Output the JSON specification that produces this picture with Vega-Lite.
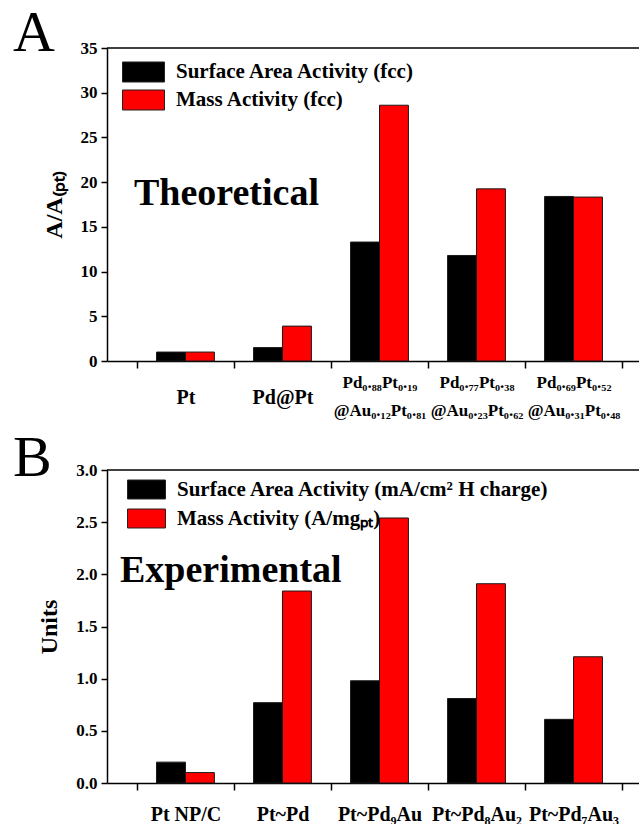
{
  "$schema": "https://vega.github.io/schema/vega-lite/v6.json",
  "background": "white",
  "padding": {"left": 13, "top": 5, "right": 0, "bottom": 0},
  "spacing": 12,
  "resolve": {"scale": {"color": "independent", "xOffset": "independent", "x": "independent", "y": "independent"}, "legend": {"color": "independent"}},
  "config": {
    "view": {"stroke": null},
    "font": "Liberation Serif",
    "axis": {
      "domainColor": "black", "domainWidth": 1.5, "tickColor": "black", "tickWidth": 1.5,
      "labelColor": "black", "labelFont": "Liberation Serif", "labelFontWeight": "bold",
      "titleColor": "black", "titleFont": "Liberation Serif", "titleFontWeight": "bold", "grid": false
    },
    "legend": {
      "labelFont": "Liberation Serif", "labelFontWeight": "bold", "labelFontSize": 21, "labelColor": "black",
      "labelLimit": 600, "padding": 0, "symbolStrokeColor": "#222222", "symbolStrokeWidth": 1, "symbolOpacity": 1
    }
  },
  "vconcat": [
    {
      "title": {"text": "A", "anchor": "start", "frame": "group", "fontSize": 58, "fontWeight": "normal", "font": "Liberation Serif", "color": "black", "baseline": "bottom", "dx": -94, "offset": -82},
      "width": 533,
      "height": 313,
      "layer": [
        {
          "data": {"values": [
            {"cat": "Pt", "series": "Surface Area Activity (fcc)", "value": 1.0},
            {"cat": "Pt", "series": "Mass Activity (fcc)", "value": 1.0},
            {"cat": "Pd@Pt", "series": "Surface Area Activity (fcc)", "value": 1.5},
            {"cat": "Pd@Pt", "series": "Mass Activity (fcc)", "value": 3.9},
            {"cat": "Pd₀.₈₈Pt₀.₁₉|@Au₀.₁₂Pt₀.₈₁", "series": "Surface Area Activity (fcc)", "value": 13.3},
            {"cat": "Pd₀.₈₈Pt₀.₁₉|@Au₀.₁₂Pt₀.₈₁", "series": "Mass Activity (fcc)", "value": 28.6},
            {"cat": "Pd₀.₇₇Pt₀.₃₈|@Au₀.₂₃Pt₀.₆₂", "series": "Surface Area Activity (fcc)", "value": 11.8},
            {"cat": "Pd₀.₇₇Pt₀.₃₈|@Au₀.₂₃Pt₀.₆₂", "series": "Mass Activity (fcc)", "value": 19.25},
            {"cat": "Pd₀.₆₉Pt₀.₅₂|@Au₀.₃₁Pt₀.₄₈", "series": "Surface Area Activity (fcc)", "value": 18.4},
            {"cat": "Pd₀.₆₉Pt₀.₅₂|@Au₀.₃₁Pt₀.₄₈", "series": "Mass Activity (fcc)", "value": 18.33}
          ]},
          "mark": {"type": "bar", "stroke": "#1a1a1a", "strokeWidth": 1},
          "encoding": {
            "x": {"field": "cat", "type": "nominal",
              "scale": {"domain": ["Pt", "Pd@Pt", "Pd₀.₈₈Pt₀.₁₉|@Au₀.₁₂Pt₀.₈₁", "Pd₀.₇₇Pt₀.₃₈|@Au₀.₂₃Pt₀.₆₂", "Pd₀.₆₉Pt₀.₅₂|@Au₀.₃₁Pt₀.₄₈"], "paddingInner": 0, "paddingOuter": 0.247, "align": 0.625},
              "axis": {"title": null, "tickBand": "extent", "tickSize": 7, "labelAngle": 0,
                "labelFontSize": {"condition": {"test": "length(datum.label) > 6", "value": 17}, "value": 20},
                "labelPadding": {"condition": {"test": "length(datum.label) > 6", "value": 14}, "value": 29},
                "labelBaseline": "middle", "labelLineHeight": 28, "labelExpr": "split(datum.label, '|')", "labelOverlap": false, "labelLimit": 300}},
            "xOffset": {"field": "series", "type": "nominal", "scale": {"domain": ["Surface Area Activity (fcc)", "Mass Activity (fcc)"], "paddingInner": 0, "paddingOuter": 0.676}},
            "y": {"field": "value", "type": "quantitative", "scale": {"domain": [0, 35], "nice": false},
              "axis": {"title": "A/A₍ₚₜ₎", "titleFontSize": 24, "titlePadding": 14,
                "values": [0, 2.5, 5, 7.5, 10, 12.5, 15, 17.5, 20, 22.5, 25, 27.5, 30, 32.5, 35],
                "labelExpr": "datum.value % 5 === 0 ? datum.label : ''",
                "tickSize": {"condition": {"test": "datum.value % 5 === 0", "value": 6}, "value": 3},
                "labelFontSize": 17, "labelPadding": 4}},
            "color": {"field": "series", "type": "nominal",
              "scale": {"domain": ["Surface Area Activity (fcc)", "Mass Activity (fcc)"], "range": ["#000000", "#ff0000"]},
              "legend": {"title": null, "orient": "none", "legendX": 21, "legendY": 8.5, "symbolType": "M-1.4,-0.667H1.4V0.667H-1.4Z", "symbolSize": 900, "labelOffset": 17, "rowPadding": 0}}
          }
        },
        {
          "data": {"values": [{"note": "Theoretical", "cat": "Pt", "y": 17.5}]},
          "mark": {"type": "text", "align": "left", "baseline": "alphabetic", "fontSize": 38, "fontWeight": "bold", "font": "Liberation Serif", "color": "black", "dx": -3},
          "encoding": {
            "x": {"field": "cat", "type": "nominal", "bandPosition": 0},
            "y": {"field": "y", "type": "quantitative"},
            "text": {"field": "note"}
          }
        },
        {
          "data": {"values": [{}]},
          "mark": {"type": "rule", "color": "black", "strokeWidth": 1.5},
          "encoding": {"y": {"datum": 35}}
        }
      ]
    },
    {
      "title": {"text": "B", "anchor": "start", "frame": "group", "fontSize": 58, "fontWeight": "normal", "font": "Liberation Serif", "color": "black", "baseline": "bottom", "dx": -94, "offset": -85},
      "width": 533,
      "height": 313,
      "layer": [
        {
          "data": {"values": [
            {"cat": "Pt NP/C", "series": "Surface Area Activity (mA/cm² H charge)", "value": 0.2},
            {"cat": "Pt NP/C", "series": "Mass Activity (A/mgₚₜ)", "value": 0.1},
            {"cat": "Pt~Pd", "series": "Surface Area Activity (mA/cm² H charge)", "value": 0.77},
            {"cat": "Pt~Pd", "series": "Mass Activity (A/mgₚₜ)", "value": 1.84},
            {"cat": "Pt~Pd₉Au", "series": "Surface Area Activity (mA/cm² H charge)", "value": 0.98},
            {"cat": "Pt~Pd₉Au", "series": "Mass Activity (A/mgₚₜ)", "value": 2.54},
            {"cat": "Pt~Pd₈Au₂", "series": "Surface Area Activity (mA/cm² H charge)", "value": 0.81},
            {"cat": "Pt~Pd₈Au₂", "series": "Mass Activity (A/mgₚₜ)", "value": 1.91},
            {"cat": "Pt~Pd₇Au₃", "series": "Surface Area Activity (mA/cm² H charge)", "value": 0.61},
            {"cat": "Pt~Pd₇Au₃", "series": "Mass Activity (A/mgₚₜ)", "value": 1.21}
          ]},
          "mark": {"type": "bar", "stroke": "#1a1a1a", "strokeWidth": 1},
          "encoding": {
            "x": {"field": "cat", "type": "nominal",
              "scale": {"domain": ["Pt NP/C", "Pt~Pd", "Pt~Pd₉Au", "Pt~Pd₈Au₂", "Pt~Pd₇Au₃"], "paddingInner": 0, "paddingOuter": 0.247, "align": 0.625},
              "axis": {"title": null, "tickBand": "extent", "tickSize": 7, "labelAngle": 0, "labelFontSize": 20, "labelBaseline": "middle", "labelPadding": 24, "labelOverlap": false, "labelLimit": 300}},
            "xOffset": {"field": "series", "type": "nominal", "scale": {"domain": ["Surface Area Activity (mA/cm² H charge)", "Mass Activity (A/mgₚₜ)"], "paddingInner": 0, "paddingOuter": 0.676}},
            "y": {"field": "value", "type": "quantitative", "scale": {"domain": [0, 3], "nice": false},
              "axis": {"title": "Units", "titleFontSize": 24, "titlePadding": 14, "format": ".1f",
                "values": [0, 0.25, 0.5, 0.75, 1, 1.25, 1.5, 1.75, 2, 2.25, 2.5, 2.75, 3],
                "labelExpr": "datum.value % 0.5 === 0 ? datum.label : ''",
                "tickSize": {"condition": {"test": "datum.value % 0.5 === 0", "value": 6}, "value": 3},
                "labelFontSize": 17, "labelPadding": 4}},
            "color": {"field": "series", "type": "nominal",
              "scale": {"domain": ["Surface Area Activity (mA/cm² H charge)", "Mass Activity (A/mgₚₜ)"], "range": ["#000000", "#ff0000"]},
              "legend": {"title": null, "orient": "none", "legendX": 22, "legendY": 2, "symbolType": "M-1.121,-0.56H1.121V0.56H-1.121Z", "symbolSize": 1149, "labelOffset": 13, "rowPadding": 0}}
          }
        },
        {
          "data": {"values": [{"note": "Experimental", "cat": "Pt NP/C", "y": 1.93}]},
          "mark": {"type": "text", "align": "left", "baseline": "alphabetic", "fontSize": 38, "fontWeight": "bold", "font": "Liberation Serif", "color": "black", "dx": -17},
          "encoding": {
            "x": {"field": "cat", "type": "nominal", "bandPosition": 0},
            "y": {"field": "y", "type": "quantitative"},
            "text": {"field": "note"}
          }
        },
        {
          "data": {"values": [{}]},
          "mark": {"type": "rule", "color": "black", "strokeWidth": 1.5},
          "encoding": {"y": {"datum": 3}}
        }
      ]
    }
  ]
}
